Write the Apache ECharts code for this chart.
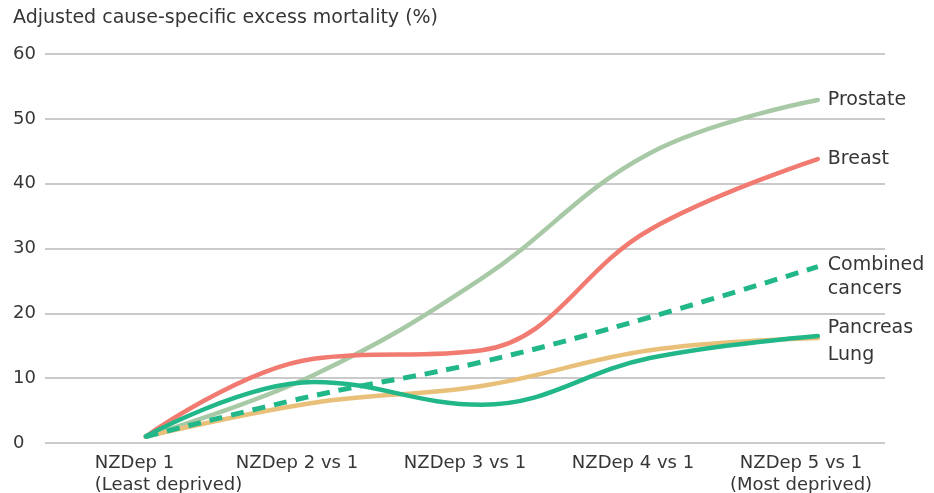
<!DOCTYPE html>
<html><head><meta charset="utf-8">
<script src="https://cdn.jsdelivr.net/npm/echarts@6/dist/echarts.min.js"></script>
<style>html,body{margin:0;padding:0;background:#fff}#c{width:934px;height:493px}</style>
</head><body><div id="c"></div>
<script>
const categories = ['NZDep 1\n(Least deprived)', 'NZDep 2 vs 1', 'NZDep 3 vs 1', 'NZDep 4 vs 1', 'NZDep 5 vs 1\n(Most deprived)'];
const yTicks = [0, 10, 20, 30, 40, 50, 60];
const prostate = [1, 10.5, 25.4, 44.7, 52.9];
const breast = [1, 13.0, 14.3, 32.9, 43.8];
const lung = [1, 6.2, 8.8, 14.3, 16.2];
const pancreas = [1, 9.4, 5.9, 13.1, 16.5];
const combined = [1, 7.3, 12.5, 19.4, 27.2];
const title = 'Adjusted cause-specific excess mortality (%)';

const FONT = 'DejaVu Sans';
const FS = 18;
const FE = 19;
const TXT = '#363636';
const chart = echarts.init(document.getElementById('c'), null, {renderer: 'canvas'});
const pts = arr => arr.map((v, i) => [i, v]);
function lbl(text, offset) {
  return {show: true, formatter: text, color: TXT, fontFamily: FONT, fontSize: FE, distance: 10, lineHeight: 24, offset: offset || [0, 0]};
}
function mk(name, data, color, opts) {
  return Object.assign({
    name: name, type: 'line', xAxisIndex: 1, data: pts(data), smooth: 0.4,
    symbol: 'none', lineStyle: {color: color, width: 4.5, cap: 'round'},
    itemStyle: {color: color},
    endLabel: lbl(name),
    emphasis: {disabled: true}
  }, opts || {});
}
const option = {
  animation: false,
  title: {text: title, left: 13, top: 9, padding: 0, textStyle: {fontFamily: FONT, fontSize: 19, fontWeight: 'normal', color: TXT}},
  grid: {left: 45, right: 49, top: 54, bottom: 50, outerBoundsMode: 'none', containLabel: false},
  xAxis: [
    {type: 'category', data: categories, boundaryGap: true, axisLine: {show: false}, axisTick: {show: false},
     axisLabel: {interval: 0, margin: 9, color: TXT, fontFamily: FONT, fontSize: FS, lineHeight: 22, hideOverlap: false,
       formatter: (v, i) => i === 0 ? '{f|' + v.split('\n').join('}\n{f|') + '}' : v,
       rich: {f: {align: 'left', padding: [0, 0, 0, 79], fontFamily: FONT, fontSize: FS, color: TXT, lineHeight: 22}}}},
    {type: 'value', min: -0.6, max: 4.4, show: false}
  ],
  yAxis: {type: 'value', min: yTicks[0], max: yTicks[yTicks.length - 1], interval: 10,
    axisLine: {show: false}, axisTick: {show: false},
    axisLabel: {align: 'left', margin: 32, color: TXT, fontFamily: FONT, fontSize: FS},
    splitLine: {lineStyle: {color: '#b8b8b8', width: 1.5}}},
  series: [
    mk('Prostate', prostate, '#a8c9a5'),
    mk('Breast', breast, '#f27b71'),
    mk('Lung', lung, '#e9c07a', {endLabel: lbl('Lung', [0, 17])}),
    mk('Pancreas', pancreas, '#22b789', {endLabel: lbl('Pancreas', [0, -8])}),
    mk('Combined cancers', combined, '#22b789', {
      lineStyle: {color: '#22b789', width: 5, type: [13, 9], cap: 'butt'},
      endLabel: lbl('Combined\ncancers', [0, 10])})
  ]
};
chart.setOption(option);
</script></body></html>
